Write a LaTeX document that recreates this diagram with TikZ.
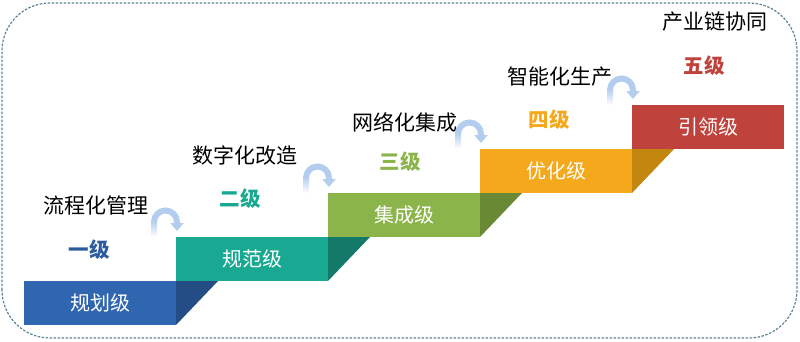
\documentclass[tikz,border=0pt]{standalone}
\usepackage{fontspec}
\usepackage{xcolor}
\usepackage{tikz}
\usetikzlibrary{arrows.meta,positioning}
\setmainfont{Noto Sans CJK SC}
\definecolor{frame}{HTML}{5B8297}
\definecolor{hookblue}{HTML}{B3CDEE}
\definecolor{blueA}{HTML}{3066B0}
\definecolor{blueB}{HTML}{244D86}
\definecolor{tealA}{HTML}{19A891}
\definecolor{tealB}{HTML}{137A69}
\definecolor{greenA}{HTML}{8BB54A}
\definecolor{greenB}{HTML}{6A8934}
\definecolor{orangeA}{HTML}{F4A81C}
\definecolor{orangeB}{HTML}{C3860F}
\definecolor{redA}{HTML}{BF433C}
\begin{document}
\begin{tikzpicture}[x=1pt,y=1pt,
stepbox/.style={rectangle,minimum width=152pt,minimum height=44pt,inner sep=0pt,outer sep=0pt,anchor=south west,text=white,font=\fontsize{20}{24}\selectfont},
levtext/.style={font=\bfseries\fontsize{20.5}{24}\selectfont},
tagtext/.style={font=\fontsize{21}{25}\selectfont},
hook/.style={line width=6pt,hookblue,-{Triangle[width=13pt,length=8pt]}}]
\useasboundingbox (0,0) rectangle (800,341);
\draw[frame,line width=1.2pt,dash pattern=on 2.5pt off 1.5pt,rounded corners=48pt](2,3) rectangle (797,338);
\node[stepbox,fill=blueA](s1) at (24,16){规划级};
\node[stepbox,fill=tealA](s2) at (s1.north east){规范级};
\node[stepbox,fill=greenA](s3) at (s2.north east){集成级};
\node[stepbox,fill=orangeA](s4) at (s3.north east){优化级};
\node[stepbox,fill=redA](s5) at (s4.north east){引领级};
\fill[blueB](s1.north east)--++(42,0)--(s1.south east)--cycle;
\fill[tealB](s2.north east)--++(42,0)--(s2.south east)--cycle;
\fill[greenB](s3.north east)--++(42,0)--(s3.south east)--cycle;
\fill[orangeB](s4.north east)--++(42,0)--(s4.south east)--cycle;
\node[levtext,text=blueA!90!black](l1) at (89,91){一级};
\node[levtext,text=tealA](l2) at (240,142){二级};
\node[levtext,text=greenA](l3) at (400,179){三级};
\node[levtext,text=orangeA](l4) at (549,221){四级};
\node[levtext,text=redA](l5) at (704,275){五级};
\node[tagtext](t1) at (96,136){流程化管理};
\node[tagtext](t2) at (245,186){数字化改造};
\node[tagtext](t3) at (405,219){网络化集成};
\node[tagtext](t4) at (560,264){智能化生产};
\node[tagtext](t5) at (715,319){产业链协同};
\shade[top color=hookblue,bottom color=white]([xshift=-25pt]s2.north west) rectangle ++(6,16);
\draw[hook]([xshift=-22pt,yshift=15pt]s2.north west) arc[start angle=180,end angle=0,radius=11.5]--++(0,-9);
\shade[top color=hookblue,bottom color=white]([xshift=-25pt]s3.north west) rectangle ++(6,16);
\draw[hook]([xshift=-22pt,yshift=15pt]s3.north west) arc[start angle=180,end angle=0,radius=11.5]--++(0,-9);
\shade[top color=hookblue,bottom color=white]([xshift=-25pt]s4.north west) rectangle ++(6,16);
\draw[hook]([xshift=-22pt,yshift=15pt]s4.north west) arc[start angle=180,end angle=0,radius=11.5]--++(0,-9);
\shade[top color=hookblue,bottom color=white]([xshift=-25pt]s5.north west) rectangle ++(6,16);
\draw[hook]([xshift=-22pt,yshift=15pt]s5.north west) arc[start angle=180,end angle=0,radius=11.5]--++(0,-9);
\end{tikzpicture}
\end{document}
